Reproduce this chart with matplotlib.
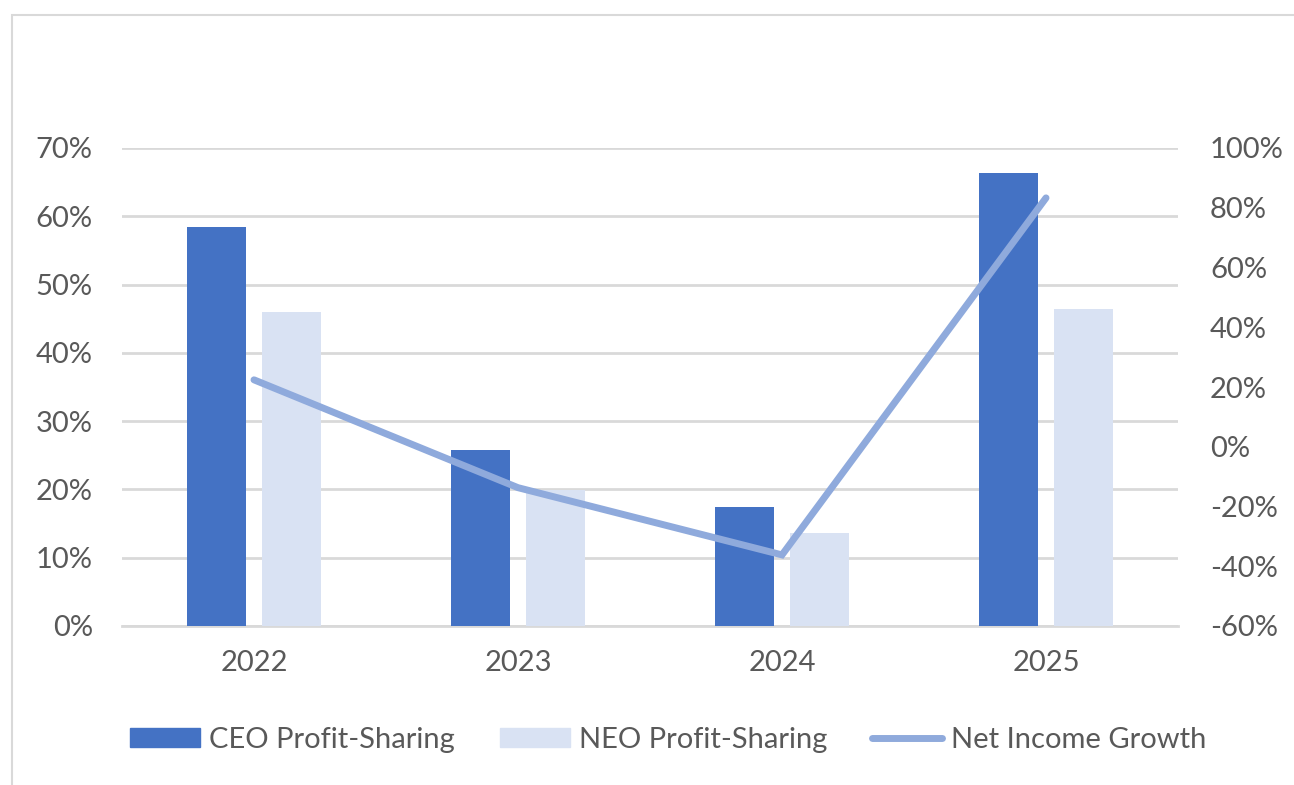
import matplotlib
matplotlib.use("Agg")
import matplotlib.pyplot as plt
from matplotlib.patches import Patch, Rectangle
from matplotlib.lines import Line2D
from matplotlib.ticker import PercentFormatter
import numpy as np

years = ["2022", "2023", "2024", "2025"]
ceo_share = [0.585, 0.258, 0.174, 0.663]
neo_share = [0.460, 0.199, 0.136, 0.464]
net_income_growth = [0.224, -0.137, -0.362, 0.833]

CEO_BLUE = "#4472C4"
NEO_BLUE = "#D9E2F3"
LINE_BLUE = "#8FAADC"
GRID = "#D9D9D9"
TXT = "#595959"

plt.rcParams.update({"font.family": ["Lato", "DejaVu Sans"],
                     "axes.unicode_minus": False})

fig = plt.figure(figsize=(12.94, 7.85), dpi=100)
fig.patches.append(Rectangle((12 / 1294, -0.01), 1.1, 1 - 15 / 785 + 0.01,
                             transform=fig.transFigure, fc="none", ec=GRID, lw=1.5))

ax = fig.add_axes([122 / 1294, 1 - 626 / 785, 1056 / 1294, 478 / 785])
x = np.arange(len(years))
w = 0.223
off = 0.142
ax.bar(x - off, ceo_share, w, color=CEO_BLUE, zorder=3)
ax.bar(x + off, neo_share, w, color=NEO_BLUE, zorder=3)
ax.set_xlim(-0.5, 3.5)
ax.set_ylim(0, 0.7)
ax.set_yticks(np.arange(0, 0.71, 0.1))
ax.yaxis.set_major_formatter(PercentFormatter(1.0, decimals=0))
ax.set_xticks(x)
ax.set_xticklabels(years)
ax.grid(axis="y", color=GRID, lw=2, zorder=0)
for s in ["top", "right", "left"]:
    ax.spines[s].set_visible(False)
ax.spines["bottom"].set_color(GRID)
ax.spines["bottom"].set_linewidth(2)
ax.tick_params(axis="both", length=0, colors=TXT, labelsize=21)
ax.tick_params(axis="y", pad=21)
ax.tick_params(axis="x", pad=17)

ax2 = ax.twinx()
ax2.plot(x, net_income_growth, color=LINE_BLUE, lw=5, solid_capstyle="round",
         solid_joinstyle="miter")
ax2.set_ylim(-0.6, 1.0)
ax2.set_yticks(np.arange(-0.6, 1.01, 0.2))
ax2.yaxis.set_major_formatter(PercentFormatter(1.0, decimals=0))
for s in ax2.spines.values():
    s.set_visible(False)
ax2.tick_params(axis="y", length=0, colors=TXT, labelsize=21, pad=23)

handles = [Patch(color=CEO_BLUE), Patch(color=NEO_BLUE),
           Line2D([], [], color=LINE_BLUE, lw=5, solid_capstyle="round")]
labels = ["CEO Profit-Sharing", "NEO Profit-Sharing", "Net Income Growth"]
fig.legend(handles, labels, loc="center", bbox_to_anchor=(0.5165, 1 - 740 / 785),
           ncol=3, frameon=False, fontsize=21, labelcolor=TXT,
           handlelength=2.4, handleheight=0.6, handletextpad=0.3, columnspacing=1.55)

fig.savefig("out.png", dpi=100)
